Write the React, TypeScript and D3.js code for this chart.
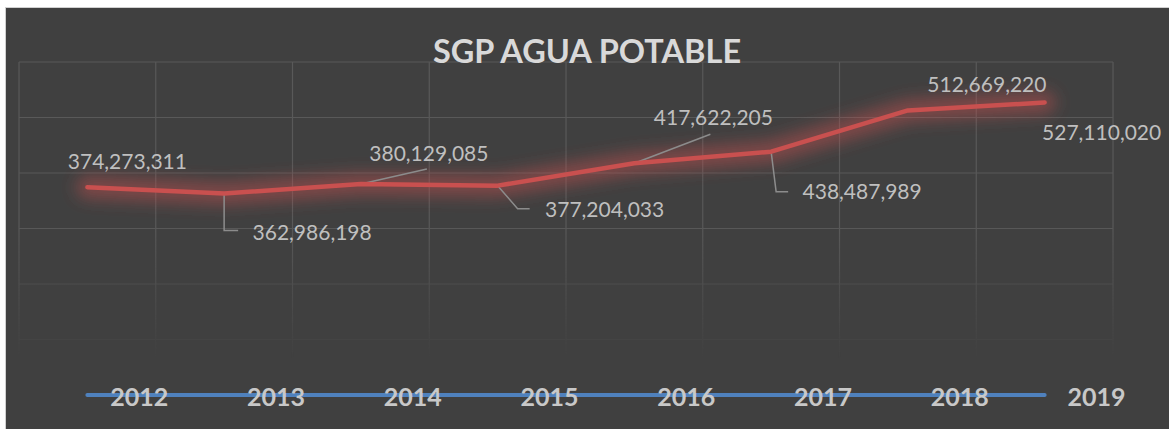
import React from "react";
import * as d3 from "d3";

const years = ["2012", "2013", "2014", "2015", "2016", "2017", "2018", "2019"];
const sgpValues = [374273311, 362986198, 380129085, 377204033, 417622205, 438487989, 512669220, 527110020];
const baseValues = [0, 0, 0, 0, 0, 0, 0, 0];
const yTicks = [100e6, 200e6, 300e6, 400e6, 500e6, 600e6];
const title = "SGP AGUA POTABLE";

// label layout: pixel offsets of the label centre from its point, and leader-line vertices
const labelLayout: { dx: number; dy: number; leader: number[][] }[] = [
  { dx: 40, dy: -26, leader: [] },
  { dx: 88, dy: 39, leader: [[0, 37], [14, 37]] },
  { dx: 68, dy: -31, leader: [[66, -15]] },
  { dx: 107, dy: 24, leader: [[20, 23], [32, 23]] },
  { dx: 79, dy: -46, leader: [[76, -29]] },
  { dx: 91, dy: 40, leader: [[5, 40], [17, 40]] },
  { dx: 79, dy: -26, leader: [] },
  { dx: 57, dy: 30, leader: [] },
];

const W = 1169;
const H = 429;

export default function App() {
  const x = d3.scaleBand<string>().domain(years).range([19, 1113]).padding(0);
  const cx = (yr: string) => (x(yr) as number) + x.bandwidth() / 2;
  const y = d3.scaleLinear().domain([0, 600e6]).range([395, 62]);
  const fmt = d3.format(",");

  const line = d3
    .line<number>()
    .x((_, i) => cx(years[i]))
    .y((v) => y(v));

  const redPath = line(sgpValues) || "";
  const bluePath = line(baseValues) || "";

  const gridEdges = [...years.map((yr) => x(yr) as number), 1113];

  const font = "Lato, 'Open Sans', sans-serif";

  return (
    <div style={{ position: "absolute", left: 0, top: 0 }}>
      <svg width={W} height={H} style={{ display: "block" }}>
        <defs>
          <filter id="glowR" x="-10%" y="-100%" width="120%" height="300%">
            <feGaussianBlur stdDeviation="8" />
          </filter>
          <filter id="glowB" x="-10%" y="-300%" width="120%" height="700%">
            <feGaussianBlur stdDeviation="4" />
          </filter>
          <linearGradient id="fade" x1="0" y1="62" x2="0" y2="360" gradientUnits="userSpaceOnUse">
            <stop offset="0" stopColor="#fff" stopOpacity="1" />
            <stop offset="0.55" stopColor="#fff" stopOpacity="1" />
            <stop offset="0.8" stopColor="#fff" stopOpacity="0.45" />
            <stop offset="1" stopColor="#fff" stopOpacity="0" />
          </linearGradient>
          <mask id="gridMask" maskUnits="userSpaceOnUse" x="0" y="0" width={W} height={H}>
            <rect x={0} y={0} width={W} height={H} fill="url(#fade)" />
          </mask>
          <clipPath id="blueClip">
            <rect x={0} y={0} width={W} height={397} />
          </clipPath>
        </defs>

        <rect x={0} y={0} width={W} height={H} fill="#ffffff" />
        <rect x={5.5} y={7.5} width={W} height={H} fill="#404040" stroke="#d0d0d0" strokeWidth={1} />

        <g mask="url(#gridMask)" stroke="#595959" strokeWidth={1.2}>
          {yTicks.map((t) => (
            <line key={t} x1={19} x2={1113} y1={y(t)} y2={y(t)} />
          ))}
          {gridEdges.map((gx, i) => (
            <line key={i} x1={gx} x2={gx} y1={y(600e6)} y2={358} />
          ))}
        </g>

        <text
          x={587}
          y={63}
          textAnchor="middle"
          fill="#d9d9d9"
          fontFamily={font}
          fontWeight={700}
          fontSize={32.5}
        >
          {title}
        </text>

        {/* blue zero series */}
        <g clipPath="url(#blueClip)">
          <path d={bluePath} fill="none" stroke="#4b6c94" strokeOpacity={0.55} strokeWidth={22} strokeLinecap="round" filter="url(#glowB)" transform="translate(0,-6)" />
        </g>
        <path d={bluePath} fill="none" stroke="#4f81bd" strokeWidth={4} strokeLinecap="round" />

        {/* year labels */}
        {years.map((yr) => (
          <text
            key={yr}
            x={cx(yr) + 52}
            y={406}
            textAnchor="middle"
            fill="#c8c8c8"
            fontFamily={font}
            fontWeight={700}
            fontSize={25}
          >
            {yr}
          </text>
        ))}

        {/* red series glow */}
        <path d={redPath} fill="none" stroke="#c0504d" strokeOpacity={0.5} strokeWidth={22} strokeLinejoin="round" strokeLinecap="round" filter="url(#glowR)" />

        {/* leader lines */}
        <g stroke="#8c8c8c" strokeWidth={1.5} fill="none">
          {sgpValues.map((v, i) => {
            const px = cx(years[i]);
            const py = y(v);
            const L = labelLayout[i];
            if (!L.leader.length) return null;
            const pts = [[0, 0], ...L.leader].map(([a, b]) => `${px + a},${py + b}`).join(" ");
            return <polyline key={i} points={pts} />;
          })}
        </g>

        <path d={redPath} fill="none" stroke="#c9504f" strokeWidth={4.5} strokeLinejoin="round" strokeLinecap="round" />

        {/* value labels */}
        {sgpValues.map((v, i) => {
          const L = labelLayout[i];
          return (
            <text
              key={i}
              x={cx(years[i]) + L.dx}
              y={y(v) + L.dy + 7.5}
              textAnchor="middle"
              fill="#bfbfbf"
              fontFamily={font}
              fontSize={21}
            >
              {fmt(v)}
            </text>
          );
        })}
      </svg>
    </div>
  );
}
